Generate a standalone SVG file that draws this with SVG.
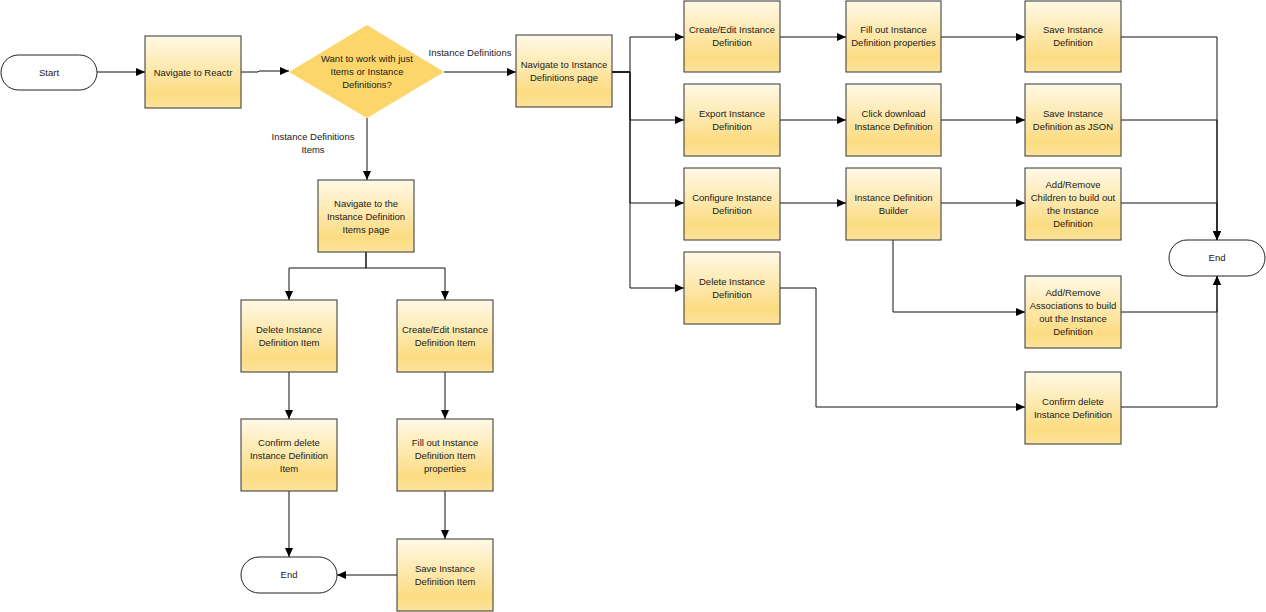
<svg xmlns="http://www.w3.org/2000/svg" width="1266" height="612" viewBox="0 0 1266 612">
<defs>
<linearGradient id="g" x1="0" y1="0" x2="0" y2="1">
<stop offset="0" stop-color="#fff9e6"/>
<stop offset="0.8" stop-color="#fcdc82"/>
<stop offset="1" stop-color="#fde49b"/>
</linearGradient>
<marker id="a" markerUnits="userSpaceOnUse" markerWidth="10" markerHeight="8" refX="9" refY="4" orient="auto">
<path d="M0,0 L9,4 L0,8 z" fill="#000"/>
</marker>
<style>
.b{fill:url(#g);stroke:#333;stroke-width:1}
.t{fill:#fff;stroke:#222;stroke-width:1}
.d{fill:#fcd66a;stroke:none}
text{font-family:"Liberation Sans",Arial,sans-serif;font-size:9.5px;fill:#1a1a1a;text-anchor:middle}
.c path{fill:none;stroke:#111;stroke-width:1}
.c path.m{marker-end:url(#a)}
</style>
</defs>
<g class="c" id="connectors">
<path class="m" d="M97,72 H145"/>
<path class="m" d="M241,72 H258 L259,71 H289"/>
<path class="m" d="M444,72 H516"/>
<path class="m" d="M367,118 V180"/>
<path class="m" d="M612,72 H630 V37 H684"/>
<path class="m" d="M612,72 H630 V120 H684"/>
<path class="m" d="M612,72 H630 V203 H684"/>
<path class="m" d="M612,72 H630 V288 H684"/>
<path class="m" d="M780,37 H846"/>
<path class="m" d="M941,37 H1025"/>
<path class="m" d="M780,120 H846"/>
<path class="m" d="M941,120 H1025"/>
<path class="m" d="M780,203 H846"/>
<path class="m" d="M941,203 H1025"/>
<path class="m" d="M1121,37 H1217 V240"/>
<path class="m" d="M1121,120 H1217 V240"/>
<path class="m" d="M1121,203 H1217 V240"/>
<path class="m" d="M893,240 V312 H1025"/>
<path class="m" d="M1121,312 H1217 V276"/>
<path class="m" d="M780,288 H816 V407 H1025"/>
<path class="m" d="M1121,407 H1217 V276"/>
<path class="m" d="M366,252 V268 H289 V300"/>
<path class="m" d="M366,252 V268 H445 V300"/>
<path class="m" d="M289,372 V419"/>
<path class="m" d="M445,372 V419"/>
<path class="m" d="M445,491 V539"/>
<path class="m" d="M289,491 V557"/>
<path class="m" d="M397,575 H337"/>
</g>
<g id="labels">
<text x="470" y="56">Instance Definitions</text>
<text x="313" y="140">Instance Definitions</text>
<text x="313" y="153">Items</text>
</g>
<g id="start"><rect class="t" x="1" y="55" width="96" height="35" rx="17.5"/><text x="49" y="76">Start</text></g>
<g id="reactr"><rect class="b" x="145" y="36" width="96" height="72"/><text x="193" y="76">Navigate to Reactr</text></g>
<g id="decision"><polygon class="d" points="367,25 444,72 367,118 289,72"/><text x="367" y="62">Want to work with just</text><text x="367" y="75">Items or Instance</text><text x="367" y="88">Definitions?</text></g>
<g id="navid"><rect class="b" x="516" y="35" width="96" height="72"/><text x="564" y="68">Navigate to Instance</text><text x="564" y="81">Definitions page</text></g>
<g id="createid"><rect class="b" x="684" y="1" width="96" height="71"/><text x="732" y="33">Create/Edit Instance</text><text x="732" y="46">Definition</text></g>
<g id="fillid"><rect class="b" x="846" y="1" width="95" height="71"/><text x="893.5" y="33">Fill out Instance</text><text x="893.5" y="46">Definition properties</text></g>
<g id="saveid"><rect class="b" x="1025" y="1" width="96" height="71"/><text x="1073" y="33">Save Instance</text><text x="1073" y="46">Definition</text></g>
<g id="exportid"><rect class="b" x="684" y="84" width="96" height="72"/><text x="732" y="117">Export Instance</text><text x="732" y="130">Definition</text></g>
<g id="download"><rect class="b" x="846" y="84" width="95" height="72"/><text x="893.5" y="117">Click download</text><text x="893.5" y="130">Instance Definition</text></g>
<g id="savejson"><rect class="b" x="1025" y="84" width="96" height="72"/><text x="1073" y="117">Save Instance</text><text x="1073" y="130">Definition as JSON</text></g>
<g id="configure"><rect class="b" x="684" y="168" width="96" height="72"/><text x="732" y="201">Configure Instance</text><text x="732" y="214">Definition</text></g>
<g id="builder"><rect class="b" x="846" y="168" width="95" height="72"/><text x="893.5" y="201">Instance Definition</text><text x="893.5" y="214">Builder</text></g>
<g id="children"><rect class="b" x="1025" y="168" width="96" height="72"/><text x="1073" y="188">Add/Remove</text><text x="1073" y="201">Children to build out</text><text x="1073" y="214">the Instance</text><text x="1073" y="227">Definition</text></g>
<g id="deleteid"><rect class="b" x="684" y="252" width="96" height="72"/><text x="732" y="285">Delete Instance</text><text x="732" y="298">Definition</text></g>
<g id="assoc"><rect class="b" x="1025" y="276" width="96" height="72"/><text x="1073" y="296">Add/Remove</text><text x="1073" y="309">Associations to build</text><text x="1073" y="322">out the Instance</text><text x="1073" y="335">Definition</text></g>
<g id="confirmid"><rect class="b" x="1025" y="372" width="96" height="72"/><text x="1073" y="405">Confirm delete</text><text x="1073" y="418">Instance Definition</text></g>
<g id="end1"><rect class="t" x="1169" y="240" width="96" height="36" rx="18"/><text x="1217" y="261">End</text></g>
<g id="navitems"><rect class="b" x="318" y="180" width="96" height="72"/><text x="366" y="207">Navigate to the</text><text x="366" y="220">Instance Definition</text><text x="366" y="233">Items page</text></g>
<g id="deleteitem"><rect class="b" x="241" y="300" width="96" height="72"/><text x="289" y="333">Delete Instance</text><text x="289" y="346">Definition Item</text></g>
<g id="createitem"><rect class="b" x="397" y="300" width="96" height="72"/><text x="445" y="333">Create/Edit Instance</text><text x="445" y="346">Definition Item</text></g>
<g id="confirmitem"><rect class="b" x="241" y="419" width="96" height="72"/><text x="289" y="446">Confirm delete</text><text x="289" y="459">Instance Definition</text><text x="289" y="472">Item</text></g>
<g id="fillitem"><rect class="b" x="397" y="419" width="96" height="72"/><text x="445" y="446">Fill out Instance</text><text x="445" y="459">Definition Item</text><text x="445" y="472">properties</text></g>
<g id="saveitem"><rect class="b" x="397" y="539" width="96" height="72"/><text x="445" y="572">Save Instance</text><text x="445" y="585">Definition Item</text></g>
<g id="end2"><rect class="t" x="241" y="557" width="96" height="36" rx="18"/><text x="289" y="578">End</text></g>
</svg>
